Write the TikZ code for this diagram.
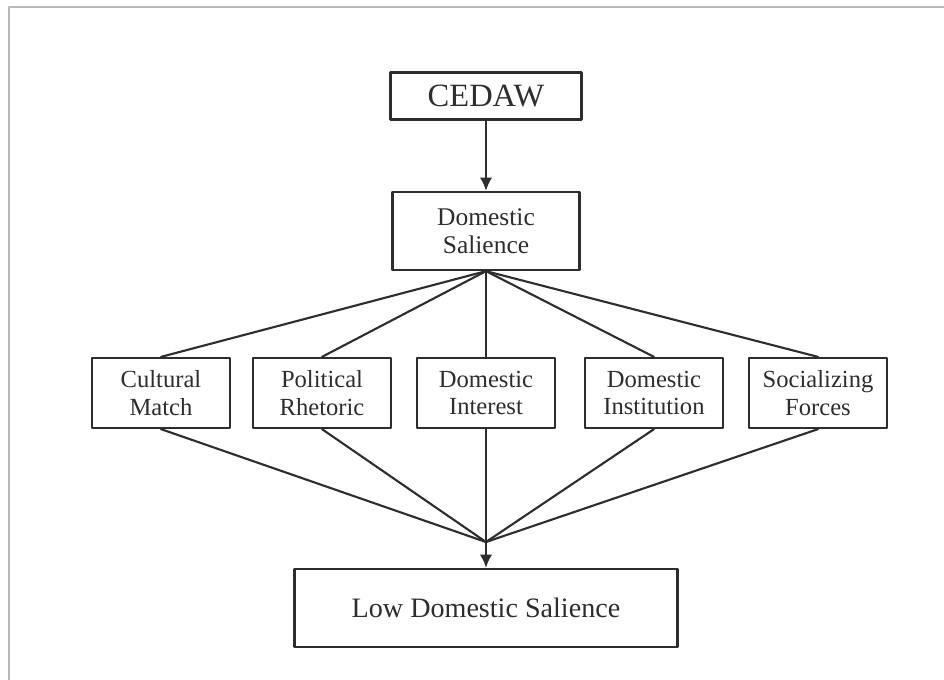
\documentclass[tikz,border=0pt]{standalone}
\usepackage{fontspec}
\setmainfont{Liberation Serif}
\usetikzlibrary{positioning, arrows, arrows.meta}
\definecolor{frame_gray}{RGB}{185,185,185}
\definecolor{ink_gray}{RGB}{45,45,45}
\tikzset{box/.style={draw=ink_gray, line width=1.3pt, inner sep=0pt, align=center, text=ink_gray},
	wire/.style={draw=ink_gray, line width=1.2pt},
	tip/.style={-{Latex[length=7.5pt, width=7pt]}}}

\begin{document}
\begin{tikzpicture}[x=0.02cm, y=-0.02cm, line join=round, line cap=round]
	\useasboundingbox (0,0) rectangle (944,680);
	% outer frame
	\draw[frame_gray, line width=1.3pt] (9,680) -- (9,7) -- (944,7);

	\node[box, minimum width=3.82cm, minimum height=0.94cm, font=\fontsize{18.5}{20}\selectfont] (cedaw) at (486,96) {CEDAW};
	\node[box, minimum width=3.74cm, minimum height=1.56cm, font=\fontsize{14.5}{16}\selectfont] (dsal) at (486,231) {Domestic\\Salience};

	\begin{scope}[every node/.style={box, minimum width=2.76cm, minimum height=1.4cm, font=\fontsize{14}{15.5}\selectfont}]
	\node (cm)    at (161,393) {Cultural\\Match};
	\node (pr)    at (322,393) {Political\\Rhetoric};
	\node (dint)  at (486,393) {Domestic\\Interest};
	\node (dinst) at (654,393) {Domestic\\Institution};
	\node (sf)    at (818,393) {Socializing\\Forces};
	\end{scope}

	\node[box, minimum width=7.66cm, minimum height=1.56cm, font=\fontsize{16}{18}\selectfont] (lds) at (486,608) {Low Domestic Salience};
	\coordinate (meet) at (486,542);

	\draw[wire, tip] (cedaw) -- (dsal);
	\foreach \b in {cm, pr, dint, dinst, sf} {
		\draw[wire] (dsal.south) -- (\b.north);
		\draw[wire] (\b.south) -- (meet);
	}
	\draw[wire, tip] (meet) -- (lds.north);
\end{tikzpicture}
\end{document}
